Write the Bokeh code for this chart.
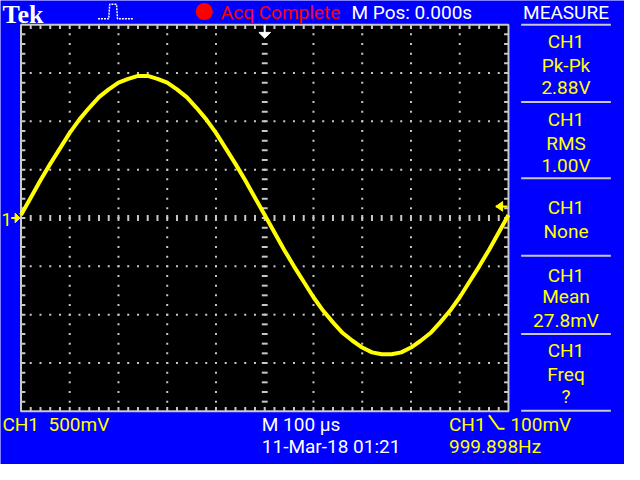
from bokeh.plotting import figure
from bokeh.models import Range1d
from bokeh.core.properties import value
from bokeh.embed import file_html
from bokeh.resources import INLINE

# ---- data ----
time_us = [-500 + 20 * k for k in range(51)]
ch1_volts = [0.03, 0.21, 0.39, 0.56, 0.72, 0.88, 1.02, 1.14, 1.25, 1.33, 1.40, 1.44, 1.47,
             1.47, 1.44, 1.40, 1.33, 1.25, 1.14, 1.02, 0.88, 0.72, 0.56, 0.39, 0.21, 0.03,
             -0.15, -0.33, -0.50, -0.66, -0.82, -0.96, -1.08, -1.19, -1.27, -1.34, -1.39, -1.41,
             -1.41, -1.39, -1.34, -1.27, -1.19, -1.08, -0.96, -0.82, -0.66, -0.50, -0.33, -0.15,
             0.03]
measure_names = ["Pk-Pk", "RMS", "None", "Mean", "Freq"]
measure_values = ["2.88V", "1.00V", "", "27.8mV", "?"]

BLUE = "#0000FF"
YELLOW = "#FFFF00"
GRAY = "#C8C8C8"
RED = "#FF0000"
WHITE = "#FFFFFF"
SANS = "Roboto"

W, H = 624, 464
p = figure(width=W, height=H, x_range=Range1d(-542, 738), y_range=Range1d(-2.55, 2.25),
           output_backend="svg", toolbar_location=None, min_border=0)
p.xaxis.visible = False
p.yaxis.visible = False
p.grid.visible = False
p.outline_line_color = None
p.background_fill_color = BLUE
p.border_fill_color = BLUE


def X(px):
    return (px - 271) * 2.0


def Y(py):
    return (225 - py) / 100.0


# screen
p.quad(left=[X(21)], right=[X(521)], top=[Y(25)], bottom=[Y(425)], fill_color="black", line_color=None)

# grid dots
dx, dy = [], []
for gx in [71, 121, 171, 221, 321, 371, 421, 471]:
    for yy in range(35, 425, 10):
        dx.append(X(gx)); dy.append(Y(yy))
for gy in [75, 125, 175, 275, 325, 375]:
    for xx in range(31, 521, 10):
        dx.append(X(xx)); dy.append(Y(gy))
p.scatter(dx, dy, marker="square", size=2, fill_color=GRAY, line_color=None)

# center dashes
sx0, sy0, sx1, sy1 = [], [], [], []
for yy in range(35, 425, 10):
    sx0.append(X(268)); sx1.append(X(274)); sy0.append(Y(yy)); sy1.append(Y(yy))
for xx in range(31, 521, 10):
    sx0.append(X(xx)); sx1.append(X(xx)); sy0.append(Y(222)); sy1.append(Y(228))
# border ticks
for xx in range(31, 521, 10):
    sx0 += [X(xx), X(xx)]; sx1 += [X(xx), X(xx)]
    sy0 += [Y(25), Y(425)]; sy1 += [Y(29.5), Y(420.5)]
for yy in range(35, 425, 10):
    sx0 += [X(21), X(521)]; sx1 += [X(25.5), X(516.5)]
    sy0 += [Y(yy), Y(yy)]; sy1 += [Y(yy), Y(yy)]
p.segment(sx0, sy0, sx1, sy1, line_color=GRAY, line_width=2)

# border
p.quad(left=[X(21)], right=[X(521)], top=[Y(25)], bottom=[Y(425)], fill_color=None,
       line_color=GRAY, line_width=2)

# measure panel separators
seps = [25, 105, 184, 264, 345, 424.5]
p.segment([X(534)] * len(seps), [Y(s) for s in seps], [X(626)] * len(seps), [Y(s) for s in seps],
          line_color=GRAY, line_width=2)

# trace
p.line(time_us, ch1_volts, line_color=YELLOW, line_width=4)

# markers
p.patch([X(265), X(277), X(271)], [Y(33), Y(33), Y(39)], fill_color=WHITE, line_color=WHITE)
p.segment([X(271)], [Y(25)], [X(271)], [Y(34)], line_color=WHITE, line_width=2)
p.patch([X(15), X(20), X(15)], [Y(220), Y(225), Y(230)], fill_color=YELLOW, line_color=YELLOW)
p.segment([X(11)], [Y(225)], [X(20)], [Y(225)], line_color=YELLOW, line_width=2)
p.patch([X(508), X(515), X(515)], [Y(213), Y(208), Y(218)], fill_color=YELLOW, line_color=YELLOW)
p.segment([X(508)], [Y(213)], [X(520)], [Y(213)], line_color=YELLOW, line_width=2)
# trigger slope symbol
p.line([X(501), X(511), X(517)], [Y(429), Y(443), Y(443)], line_color=YELLOW, line_width=2)
# pulse icon
p.line([X(100), X(111), X(112), X(119), X(120), X(136)],
       [Y(19), Y(19), Y(4), Y(4), Y(19), Y(19)], line_color=WHITE, line_width=1.5, line_dash="2 1")
# acquisition dot
p.scatter([X(209)], [Y(11.5)], marker="circle", size=17, fill_color=RED, line_color=None)


def txt(s, px, py, color, size=19, align="left", font=SANS, style="normal", shift=5.5):
    p.text(x=[X(px)], y=[Y(py - shift)], text=[s], text_color=color, text_font=value(font),
           text_font_size=f"{size}px", text_align=align, text_baseline="alphabetic",
           text_font_style=style)


txt("Tek", 2, 20, WHITE, size=26, font="Liberation Serif", style="bold")
txt("Acq Complete", 226, 18, RED)
txt("M Pos: 0.000s", 360, 18, WHITE)
txt("MEASURE", 580, 18, WHITE, align="center")
txt("1", 1, 232, YELLOW, size=18)

title_y = [48, 129, 220, 290, 368]
name_y = [73, 153, 244, 312, 392]
val_y = [96, 176, 0, 337, 415]
for i in range(5):
    txt("CH1", 580, title_y[i], YELLOW, align="center")
    txt(measure_names[i], 580, name_y[i], YELLOW, align="center")
    if measure_values[i]:
        txt(measure_values[i], 580, val_y[i], YELLOW, align="center")

txt("CH1\u00a0\u00a0500mV", 2, 444, YELLOW)
txt("M 100 \u00b5s", 268, 444, WHITE)
txt("11-Mar-18 01:21", 268, 467, WHITE)
txt("CH1", 460, 444, YELLOW)
txt("100mV", 523, 444, YELLOW)
txt("999.898Hz", 460, 467, YELLOW)

open("out.html", "w").write(file_html(p, INLINE))
